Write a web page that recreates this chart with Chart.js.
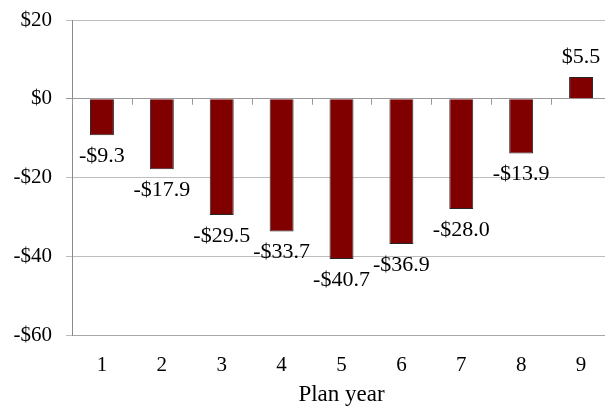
<!DOCTYPE html>
<html>
<head>
<meta charset="utf-8">
<script src="https://cdn.jsdelivr.net/npm/chart.js@4/dist/chart.umd.min.js"></script>
<style>
  html, body { margin: 0; padding: 0; background: #fff; overflow: hidden; }
  /* plot runs a few pixels past the right edge of the page */
  #wrap { width: 611px; height: 409px; position: relative; }
</style>
</head>
<body>
<div id="wrap"><canvas id="graphCanvas"></canvas></div>
<script>
var planYears = ['1', '2', '3', '4', '5', '6', '7', '8', '9'];
var netValues = [-9.3, -17.9, -29.5, -33.7, -40.7, -36.9, -28.0, -13.9, 5.5];
var yTicks = [20, 0, -20, -40, -60];

var serif = '"Liberation Serif", "Times New Roman", serif';

function money(v, digits) {
  var s = '$' + Math.abs(v).toFixed(digits);
  return v < 0 ? '-' + s : s;
}

// value labels under negative bars, over positive ones
var barLabels = {
  id: 'barLabels',
  afterDatasetsDraw: function (chart) {
    var ctx = chart.ctx;
    var meta = chart.getDatasetMeta(0);
    ctx.save();
    ctx.font = '22px ' + serif;
    ctx.fillStyle = '#000';
    ctx.textAlign = 'center';
    ctx.textBaseline = 'middle';
    meta.data.forEach(function (bar, i) {
      var v = netValues[i];
      var y = v < 0 ? bar.y + 21 : bar.y - 20;
      ctx.fillText(money(v, 1), bar.x, y);
    });
    ctx.restore();
  }
};

// small category ticks hanging from the zero line
var zeroTicks = {
  id: 'zeroTicks',
  afterDraw: function (chart) {
    var ctx = chart.ctx;
    var x = chart.scales.x;
    var y0 = chart.scales.y.getPixelForValue(0);
    ctx.save();
    ctx.strokeStyle = '#9a9a9a';
    ctx.lineWidth = 1;
    for (var i = 0; i <= planYears.length; i++) {
      var px = Math.round(x.getPixelForValue(i - 0.5)) + 0.5;
      ctx.beginPath();
      ctx.moveTo(px, y0);
      ctx.lineTo(px, y0 + 6);
      ctx.stroke();
    }
    ctx.restore();
  }
};

var chartdata = {
  labels: planYears,
  datasets: [
    {
      label: 'Net value',
      backgroundColor: '#800000',
      borderColor: '#262626',
      borderWidth: 1,
      categoryPercentage: 1,
      barPercentage: 0.4,
      data: netValues
    }
  ]
};

new Chart(document.getElementById('graphCanvas'), {
  type: 'bar',
  data: chartdata,
  plugins: [barLabels, zeroTicks],
  options: {
    responsive: true,
    maintainAspectRatio: false,
    animation: false,
    layout: { padding: { top: 20, right: 0, left: 0, bottom: 0 } },
    plugins: {
      legend: { display: false },
      tooltip: { enabled: false }
    },
    scales: {
      x: {
        afterFit: function (scale) { scale.height = 74; },
        grid: { display: false, drawTicks: false },
        border: { color: '#a8a8a8' },
        ticks: { color: '#000', font: { family: serif, size: 21 }, padding: 18 },
        title: {
          display: true,
          text: 'Plan year',
          color: '#000',
          font: { family: serif, size: 23 },
          padding: { top: 0, bottom: 0 }
        }
      },
      y: {
        min: -60,
        max: 20,
        afterBuildTicks: function (scale) {
          scale.ticks = yTicks.map(function (v) { return { value: v }; });
        },
        afterFit: function (scale) {
          scale.width = 72;
          scale.paddingTop = 0;
          scale.paddingBottom = 0;
        },
        grid: {
          tickLength: 6,
          color: function (c) { return c.tick && c.tick.value === 0 ? '#9a9a9a' : '#bdbdbd'; }
        },
        border: { color: '#8a8a8a' },
        ticks: {
          color: '#000',
          font: { family: serif, size: 21 },
          padding: 14,
          callback: function (v) { return money(v, 0); }
        }
      }
    }
  }
});
</script>
</body>
</html>
